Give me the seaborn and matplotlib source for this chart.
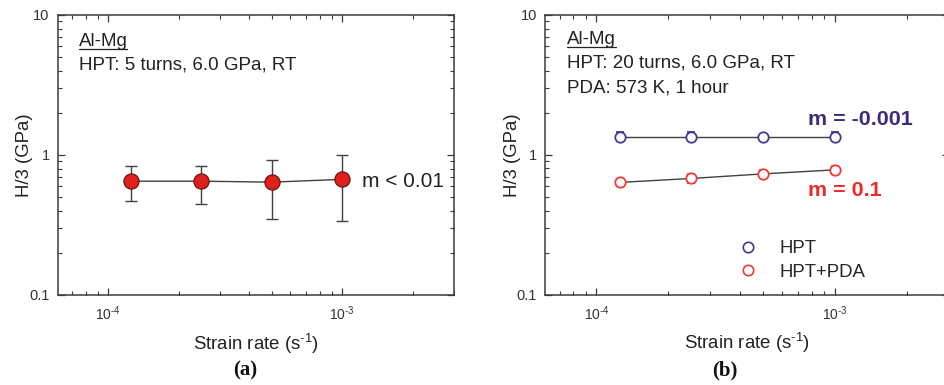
import numpy as np
import pandas as pd
import matplotlib
matplotlib.use("Agg")
import matplotlib.pyplot as plt
import matplotlib.ticker as mticker
from matplotlib.lines import Line2D
import seaborn as sns

# ---------------- data ----------------
strain_rate = [1.25e-4, 2.5e-4, 5e-4, 1e-3]

# panel (a): HPT 5 turns
a_h = [0.65, 0.65, 0.64, 0.67]
a_low = [0.47, 0.447, 0.351, 0.338]
a_high = [0.84, 0.84, 0.916, 0.995]

# panel (b): HPT 20 turns and HPT+PDA
b_hpt = [1.35, 1.35, 1.35, 1.35]
b_hpt_err = [0.10, 0.10, 0.05, 0.10]
b_pda = [0.635, 0.678, 0.731, 0.781]
b_pda_err = [0.04, 0.05, 0.05, 0.05]

series_names = ["HPT", "HPT+PDA"]
y_ticks = [0.1, 1, 10]
y_tick_labels = ["0.1", "1", "10"]

# ---------------- style ----------------
sns.set_theme(style="ticks")
plt.rcParams['font.family'] = ['Liberation Sans', 'DejaVu Sans']
plt.rcParams['mathtext.fontset'] = 'custom'
plt.rcParams['mathtext.rm'] = 'Liberation Sans'
plt.rcParams['mathtext.it'] = 'Liberation Sans:italic'
plt.rcParams['mathtext.bf'] = 'Liberation Sans:bold'
plt.rcParams['mathtext.default'] = 'regular'

W, H = 944, 385
fig = plt.figure(figsize=(W / 100, H / 100), dpi=100)

spine_col = "#3a3a3a"
line_col = "#404040"
red_fill = "#e0201b"
purple = "#4b3590"
red_open = "#f03a32"
m_purple = "#3d2a7a"
m_red = "#ec2a22"
HY = "\u2010"  # hyphen used in the superscripts of the original

ax_a = fig.add_axes([58 / W, (H - 295) / H, 396 / W, 280 / H])
ax_b = fig.add_axes([545.3 / W, (H - 294.7) / H, 403.2 / W, 279.7 / H])


def x_fmt(v, pos):
    e = int(round(np.log10(v)))
    if e < 0:
        return "10$^{" + HY + str(-e) + "}$"
    return "10$^{" + str(e) + "}$"


def style_axes(ax):
    ax.set_xscale('log')
    ax.set_yscale('log')
    ax.set_xlim(6.1e-5, 3.0e-3)
    ax.set_ylim(0.1, 10)
    ax.set_yticks(y_ticks)
    ax.yaxis.set_major_formatter(mticker.FixedFormatter(y_tick_labels))
    ax.yaxis.set_minor_locator(mticker.LogLocator(base=10, subs=np.arange(2, 10)))
    ax.xaxis.set_major_locator(mticker.LogLocator(base=10, numticks=10))
    ax.xaxis.set_major_formatter(mticker.FuncFormatter(x_fmt))
    ax.xaxis.set_minor_locator(mticker.LogLocator(base=10, subs=np.arange(2, 10), numticks=10))
    ax.xaxis.set_minor_formatter(mticker.NullFormatter())
    ax.yaxis.set_minor_formatter(mticker.NullFormatter())
    ax.tick_params(which='both', direction='in', top=True, right=True,
                   color=spine_col, labelcolor="#333333")
    ax.tick_params(which='major', length=5, width=0.9, pad=6)
    ax.tick_params(which='minor', length=3, width=0.8)
    ax.tick_params(axis='y', which='major', labelsize=10.5, pad=6)
    ax.tick_params(axis='x', which='major', labelsize=10, pad=7)
    for s in ax.spines.values():
        s.set_color(spine_col)
        s.set_linewidth(1.1)
    ax.grid(False)


def set_labels(ax):
    ax.set_xlabel("Strain rate (s$^{" + HY + "1}$)", fontsize=13.4, color="#222222", labelpad=6)
    ax.set_ylabel("H/3 (GPa)", fontsize=13.4, color="#222222", labelpad=-3)


# ---------------- panel (a) ----------------
style_axes(ax_a)
df_a = pd.DataFrame({"rate": strain_rate, "H": a_h})
sns.lineplot(data=df_a, x="rate", y="H", ax=ax_a, color=line_col, lw=1.0, zorder=2)
yerr_a = [np.array(a_h) - np.array(a_low), np.array(a_high) - np.array(a_h)]
ax_a.errorbar(strain_rate, a_h, yerr=yerr_a, fmt='none', ecolor=line_col,
              elinewidth=1.0, capsize=4.3, capthick=1.0, zorder=3)
sns.scatterplot(data=df_a, x="rate", y="H", ax=ax_a, s=120, color=red_fill,
                edgecolor="#5a1010", linewidth=0.8, zorder=4, legend=False)
set_labels(ax_a)

t_a1 = ax_a.text(0.052, 0.905, "Al-Mg", transform=ax_a.transAxes, fontsize=13.5,
                 color="#222222", va='center', ha='left')
ax_a.text(0.052, 0.822, "HPT: 5 turns, 6.0 GPa, RT", transform=ax_a.transAxes,
          fontsize=13.5, color="#222222", va='center', ha='left')
ax_a.text(0.768, 0.405, "m < 0.01", transform=ax_a.transAxes, fontsize=15,
          color="#222222", va='center', ha='left')

# ---------------- panel (b) ----------------
style_axes(ax_b)
df_b = pd.DataFrame({"rate": strain_rate * 2,
                     "H": b_hpt + b_pda,
                     "Condition": [series_names[0]] * 4 + [series_names[1]] * 4})
for name in series_names:
    sns.lineplot(data=df_b[df_b["Condition"] == name], x="rate", y="H", ax=ax_b,
                 color=line_col, lw=1.0, zorder=2)
ax_b.errorbar(strain_rate, b_hpt, yerr=b_hpt_err, fmt='o', ms=7.5, mfc='white',
              mec=purple, mew=1.3, ecolor=purple, elinewidth=1.0, capsize=3,
              capthick=1.0, zorder=4)
ax_b.errorbar(strain_rate, b_pda, yerr=b_pda_err, fmt='o', ms=7.5, mfc='white',
              mec=red_open, mew=1.3, ecolor=red_open, elinewidth=1.0, capsize=3,
              capthick=1.0, zorder=4)
set_labels(ax_b)

t_b1 = ax_b.text(0.054, 0.912, "Al-Mg", transform=ax_b.transAxes, fontsize=13.5,
                 color="#222222", va='center', ha='left')
ax_b.text(0.054, 0.827, "HPT: 20 turns, 6.0 GPa, RT", transform=ax_b.transAxes,
          fontsize=13.5, color="#222222", va='center', ha='left')
ax_b.text(0.054, 0.738, "PDA: 573 K, 1 hour", transform=ax_b.transAxes,
          fontsize=13.5, color="#222222", va='center', ha='left')
ax_b.text(0.652, 0.625, "m = -0.001", transform=ax_b.transAxes, fontsize=15.4,
          fontweight='bold', color=m_purple, va='center', ha='left')
ax_b.text(0.652, 0.372, "m = 0.1", transform=ax_b.transAxes, fontsize=15.4,
          fontweight='bold', color=m_red, va='center', ha='left')

handles = [Line2D([], [], ls='none', marker='o', ms=7.5, mfc='white', mec=purple, mew=1.2),
           Line2D([], [], ls='none', marker='o', ms=7.5, mfc='white', mec=red_open, mew=1.2)]
ax_b.legend(handles, series_names, loc='center', bbox_to_anchor=(0.637, 0.122),
            frameon=False, fontsize=13.4, handlelength=1.0, handletextpad=1.15,
            labelspacing=0.35, borderpad=0.2)

# panel labels: regular parentheses, bold letter
serif = ['Liberation Serif', 'DejaVu Serif']
for cx, letter in ((245, "a"), (725, "b")):
    fig.text(cx / W, 1 - 370 / H, "(" + letter + ")", fontsize=15, family=serif,
             fontweight='bold', ha='center', va='center', color="#111111")

# underline "Al-Mg"
fig.canvas.draw()
renderer = fig.canvas.get_renderer()
for t in (t_a1, t_b1):
    bb = t.get_window_extent(renderer=renderer)
    y0 = bb.y0 + 1
    fig.add_artist(Line2D([bb.x0 / W, bb.x1 / W], [y0 / H, y0 / H], transform=fig.transFigure,
                          color="#222222", lw=0.9))

fig.savefig("out.png", dpi=100)
